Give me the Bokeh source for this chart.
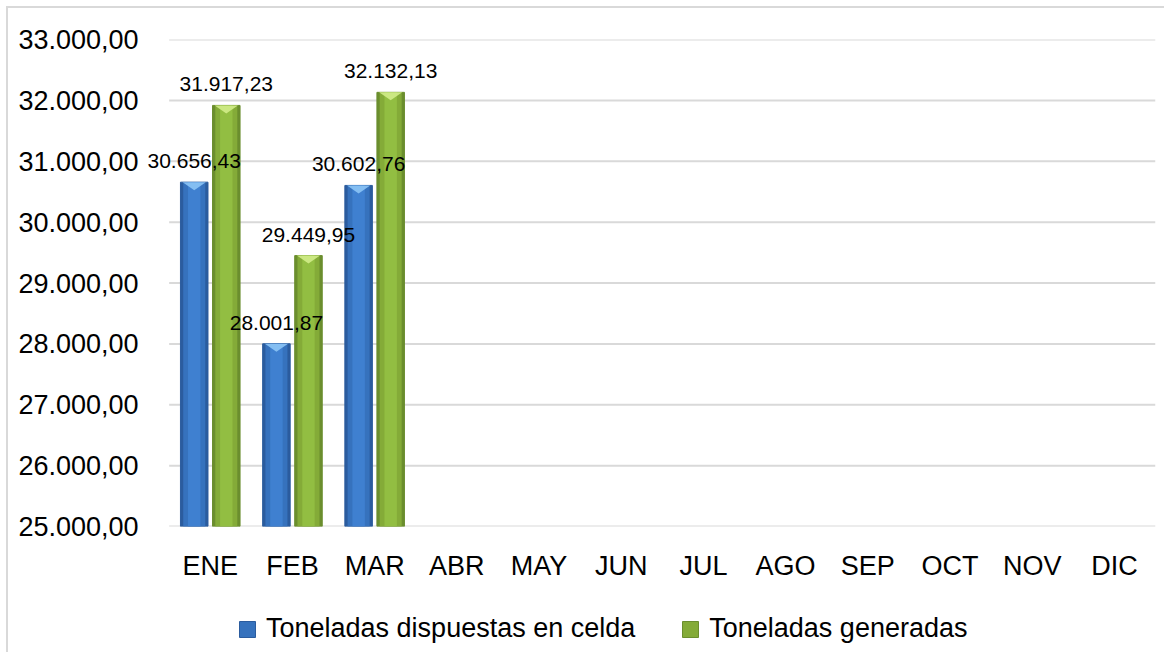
from bokeh.plotting import figure
from bokeh.layouts import column
from bokeh.models import (ColumnDataSource, Range1d, FixedTicker, Legend, LegendItem, LabelSet)
from bokeh.core.properties import value
from bokeh.embed import file_html
from bokeh.resources import INLINE

months = ["ENE", "FEB", "MAR", "ABR", "MAY", "JUN", "JUL", "AGO", "SEP", "OCT", "NOV", "DIC"]
dispuestas = [30656.43, 28001.87, 30602.76]
generadas = [31917.23, 29449.95, 32132.13]
series_names = ["Toneladas dispuestas en celda", "Toneladas generadas"]
y_ticks = [25000, 26000, 27000, 28000, 29000, 30000, 31000, 32000, 33000]
y_tick_labels = ["25.000,00", "26.000,00", "27.000,00", "28.000,00", "29.000,00",
                 "30.000,00", "31.000,00", "32.000,00", "33.000,00"]

FONT = "Liberation Sans"


def es(v):
    s = f"{v:,.2f}"
    return s.replace(",", "X").replace(".", ",").replace("X", ".")


n = len(dispuestas)
centers = [i + 0.5 for i in range(len(months))]
OFF = 0.195
W = 0.335
src = ColumnDataSource(dict(
    xd=[c - OFF for c in centers[:n]], xg=[c + OFF for c in centers[:n]],
    d=dispuestas, g=generadas,
    dl=[es(v) for v in dispuestas], gl=[es(v) for v in generadas],
))

y0, y1 = y_ticks[0], y_ticks[-1]
FH = 487
X0 = -0.3
FW = round((len(months) - X0) * 82.17)
p = figure(x_range=Range1d(X0, len(months)), y_range=Range1d(y0, y1),
           frame_width=FW, frame_height=FH,
           min_border_left=136, min_border_right=9, min_border_top=31, min_border_bottom=74,
           output_backend="svg", toolbar_location=None)
p.outline_line_color = None
p.background_fill_color = "white"
p.border_fill_color = "white"

# horizontal gridlines across the category area
p.segment(x0=0, x1=len(months), y0=y_ticks, y1=y_ticks, line_color="#d9d9d9", line_width=2)

blue = dict(edge="#2B5C9E", mid="#3672BD", center="#3F80D0", top="#8CC4F5")
green = dict(edge="#6B8E2E", mid="#84AB38", center="#92BE42", top="#D2EC8A")

for xcol, col, c in (("xd", "d", blue), ("xg", "g", green)):
    p.vbar(x=xcol, top=col, bottom=y0, width=W, source=src,
           fill_color=c["edge"], line_color=c["edge"], line_width=1)
    p.vbar(x=xcol, top=col, bottom=y0, width=W * 0.8, source=src,
           fill_color=c["mid"], line_color=None)
    p.vbar(x=xcol, top=col, bottom=y0, width=W * 0.45, source=src,
           fill_color=c["center"], line_color=None)

# top bevel triangles
h = 8 * (y1 - y0) / FH
for xcol, vals, c in (("xd", dispuestas, blue), ("xg", generadas, green)):
    xs, ys = [], []
    for cx, v in zip(src.data[xcol], vals):
        hw = W * 0.42
        xs.append([cx - hw, cx + hw, cx])
        ys.append([v, v, v - h])
    p.patches(xs=xs, ys=ys, fill_color=c["top"], line_color=None, fill_alpha=0.9)

for xcol, col in (("xd", "d"), ("xg", "g")):
    p.add_layout(LabelSet(x=xcol, y=col, text=col + "l", source=src,
                          text_align="center", text_baseline="bottom", y_offset=14,
                          text_font=value(FONT), text_font_size="21px", text_color="black"))

p.xgrid.grid_line_color = None
p.ygrid.grid_line_color = None
p.yaxis.ticker = FixedTicker(ticks=y_ticks)
p.yaxis.major_label_overrides = dict(zip(y_ticks, y_tick_labels))
p.xaxis.ticker = FixedTicker(ticks=centers)
p.xaxis.major_label_overrides = dict(zip(centers, months))

for ax in (p.xaxis, p.yaxis):
    ax.axis_line_color = None
    ax.major_tick_line_color = None
    ax.minor_tick_line_color = None
    ax.major_tick_out = 0
    ax.major_tick_in = 0
    ax.minor_tick_out = 0
    ax.major_label_text_font = FONT
    ax.major_label_text_font_size = "27px"
    ax.major_label_text_color = "black"
p.yaxis.major_label_standoff = 6
p.xaxis.major_label_standoff = 24

# legend strip below (its frame is aligned with the main frame by the column)
q = figure(width=FW + 145, height=52, x_range=Range1d(0, 1), y_range=Range1d(0, 1),
           min_border=0, output_backend="svg", toolbar_location=None)
q.axis.visible = False
q.grid.grid_line_color = None
q.outline_line_color = None
q.background_fill_color = "white"
q.border_fill_color = "white"
lr = []
for c in (blue, green):
    lr.append(q.vbar(x=[0.5], top=[-2], bottom=[-3], width=0.1,
                     fill_color=c["mid"], line_color=c["edge"]))
legend = Legend(items=[LegendItem(label=series_names[0], renderers=[lr[0]]),
                       LegendItem(label=series_names[1], renderers=[lr[1]])],
                orientation="horizontal", location=(93, 8))
legend.label_text_font = FONT
legend.label_text_font_size = "27px"
legend.label_text_color = "black"
legend.glyph_width = 20
legend.glyph_height = 20
legend.label_standoff = 9
legend.spacing = 45
legend.border_line_color = None
legend.background_fill_alpha = 0
legend.padding = 4
legend.margin = 0
q.add_layout(legend, "center")

layout = column(p, q, spacing=0)
layout.styles = {"border-left": "2px solid #d9d9d9", "border-top": "2px solid #d9d9d9",
                 "margin-left": "6px", "margin-top": "6px"}

open("out.html", "w").write(file_html(layout, INLINE))
